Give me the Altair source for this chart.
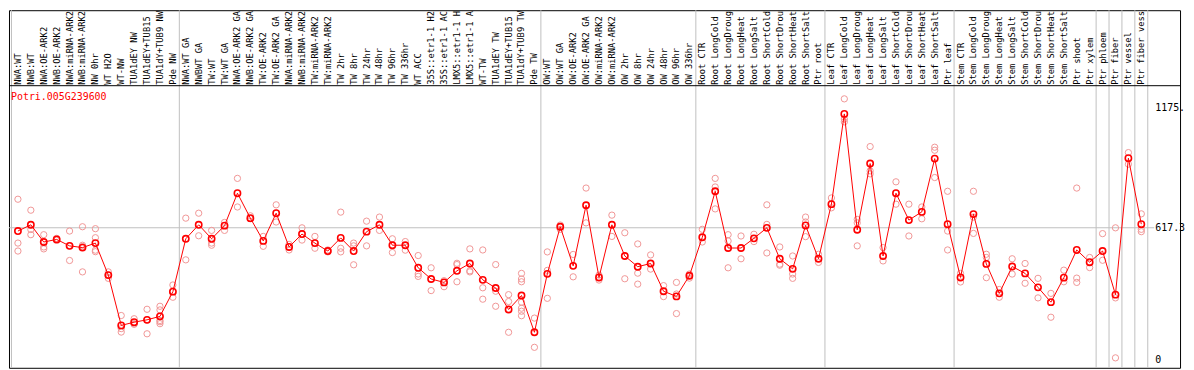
import altair as alt
import pandas as pd

gene = "Potri.005G239600"

labels = [
    "NWA:WT", "NWB:WT", "NWA:OE-ARK2", "NWB:OE-ARK2", "NWA:miRNA-ARK2", "NWB:miRNA-ARK2",
    "NW 0hr", "WT H2O", "WT-NW", "TUA1dEY NW", "TUA1dEY+TUB15", "TUA1dY+TUB9 NW", "Pde NW",
    "NWA:WT GA", "NWBWT GA", "TW:WT", "TW:WT GA", "NWA:OE-ARK2 GA", "NWB:OE-ARK2 GA",
    "TW:OE-ARK2", "TW:OE-ARK2 GA", "NWA:miRNA-ARK2", "NWB:miRNA-ARK2", "TW:miRNA-ARK2",
    "TW:miRNA-ARK2", "TW 2hr", "TW 8hr", "TW 24hr", "TW 48hr", "TW 96hr", "TW 336hr",
    "WT ACC", "35S::etr1-1 H2", "35S::etr1-1 AC", "LMX5::etr1-1 H", "LMX5::etr1-1 A",
    "WT-TW", "TUA1dEY TW", "TUA1dEY+TUB15", "TUA1dY+TUB9 TW", "Pde TW",
    "OW:WT", "OW:WT GA", "OW:OE-ARK2", "OW:OE-ARK2 GA", "OW:miRNA-ARK2", "OW:miRNA-ARK2",
    "OW 2hr", "OW 8hr", "OW 24hr", "OW 48hr", "OW 96hr", "OW 336hr",
    "Root CTR", "Root LongCold", "Root LongDroug", "Root LongHeat", "Root LongSalt",
    "Root ShortCold", "Root ShortDrou", "Root ShortHeat", "Root ShortSalt", "Ptr root",
    "Leaf CTR", "Leaf LongCold", "Leaf LongDroug", "Leaf LongHeat", "Leaf LongSalt",
    "Leaf ShortCold", "Leaf ShortDrou", "Leaf ShortHeat", "Leaf ShortSalt", "Ptr leaf",
    "Stem CTR", "Stem LongCold", "Stem LongDroug", "Stem LongHeat", "Stem LongSalt",
    "Stem ShortCold", "Stem ShortDrou", "Stem ShortHeat", "Stem ShortSalt", "Ptr shoot",
    "Ptr xylem", "Ptr phloem", "Ptr fiber", "Ptr vessel", "Ptr fiber vess",
]

means = [
    602, 631, 551, 563, 533, 525, 546, 397, 163, 178, 189, 205, 320,
    566, 631, 566, 627, 778, 662, 556, 685, 528, 588, 546, 509, 570, 509, 599, 631, 536, 536,
    431, 379, 363, 417, 451, 375, 337, 237, 302, 131,
    403, 622, 440, 722, 386, 631, 486, 436, 451, 322, 298, 394,
    573, 787, 523, 523, 568, 617, 473, 426, 628, 473,
    727, 1147, 608, 916, 486, 778, 653, 691, 939, 634,
    386, 681, 449, 312, 437, 405, 340, 271, 385, 514, 457,
    509, 306, 941, 634,
]

reps = [
    [750, 546, 509], [699, 585, 609], [585, 528, 519], [568, 559], [602, 533, 465],
    [622, 536, 530, 412], [613, 571, 513, 506], [412, 382, 397], [209, 148, 132],
    [194, 171, 168], [238, 189, 124], [252, 235, 186, 171, 180], [351, 294, 320],
    [662, 468], [685, 580], [605, 546, 536], [642, 605], [847, 714], [673, 659],
    [577, 531], [724, 644], [540, 514], [617, 560], [577, 522], [514, 505],
    [690, 522, 505], [546, 533, 445], [648, 533], [667, 605], [566, 502], [553, 513],
    [488, 402, 391], [431, 325], [371, 343], [452, 446, 366], [519, 417, 412],
    [514, 338, 285], [446, 322, 252], [306, 274, 131],
    [405, 379, 366, 271, 243, 229, 208], [197, 61],
    [505, 419, 289], [630, 610], [493, 389], [802, 640], [397, 374], [676, 577],
    [594, 380], [542, 406, 355], [491, 425], [348, 297], [363, 309, 218], [402, 383],
    [610, 551], [847, 807, 705], [585, 556, 431], [579, 473], [587, 553],
    [724, 633, 500], [528, 448, 443], [486, 402, 382], [667, 644, 576], [494, 456],
    [756, 710], [1217, 1123, 1110], [656, 640, 533], [995, 882, 868], [525, 463],
    [831, 727], [727, 579], [714, 659], [992, 978, 851], [787, 602, 514],
    [405, 365], [787, 667, 591], [494, 479, 385], [330, 294], [473, 402],
    [451, 359], [382, 291], [312, 201], [420, 366], [802, 383, 363], [479, 432],
    [590, 466], [617, 291, 12], [967, 913], [682, 610, 599],
]

group_breaks = [-0.5, 12.5, 40.5, 52.5, 62.5, 72.5, 83.5, 84.5, 85.5, 86.5, 87.5]
tick_values = [0, 617.3, 1175]
tick_labels = ["0", "617.3", "1175."]
grid_value = [617.3]

# ---- layout (pixels) ----
W, H = 1179, 360
MONO = "DejaVu Sans Mono"

cat_df = pd.DataFrame({"idx": list(range(len(labels))), "label": labels, "mean": means})
rep_rows = [{"idx": i, "value": v} for i, vals in enumerate(reps) for v in vals]
rep_df = pd.DataFrame(rep_rows)
brk_df = pd.DataFrame({"b": group_breaks})
tick_df = pd.DataFrame({"v": tick_values, "t": tick_labels})
grid_df = pd.DataFrame({"v": grid_value})
one_df = pd.DataFrame({"t": [gene]})

xs = alt.Scale(domain=[-0.6923, 90], nice=False, zero=False)
ys = alt.Scale(domain=[-34.2, 1629.4], nice=False, zero=False)

vgrid = alt.Chart(brk_df).mark_rule(color="#c0c0c0", strokeWidth=1).encode(
    x=alt.X("b:Q", scale=xs, axis=None), y=alt.value(0), y2=alt.value(H)
)
hgrid = alt.Chart(grid_df).mark_rule(color="#c0c0c0", strokeWidth=1).encode(
    y=alt.Y("v:Q", scale=ys, axis=None), x=alt.value(0), x2=alt.value(1153)
)
sep = alt.Chart(one_df).mark_rule(color="black", strokeWidth=1).encode(
    y=alt.value(76), x=alt.value(0), x2=alt.value(W)
)
rep_pts = alt.Chart(rep_df).mark_point(
    shape="circle", filled=False, color="#f09696", size=40, strokeWidth=1, opacity=1
).encode(
    x=alt.X("idx:Q", scale=xs, axis=None), y=alt.Y("value:Q", scale=ys, axis=None)
)
line = alt.Chart(cat_df).mark_line(color="#ff0000", strokeWidth=1).encode(
    x=alt.X("idx:Q", scale=xs, axis=None), y=alt.Y("mean:Q", scale=ys, axis=None)
)
mean_pts = alt.Chart(cat_df).mark_point(
    shape="circle", filled=False, color="#ff0000", size=40, strokeWidth=1.6, opacity=1
).encode(
    x=alt.X("idx:Q", scale=xs, axis=None), y=alt.Y("mean:Q", scale=ys, axis=None)
)
lab = alt.Chart(cat_df).mark_text(
    angle=270, align="left", baseline="middle", font=MONO, fontSize=8.8, color="black"
).encode(
    x=alt.X("idx:Q", scale=xs, axis=None), y=alt.value(75), text="label:N"
)
title = alt.Chart(one_df).mark_text(
    align="left", baseline="middle", font=MONO, fontSize=10, color="#ff0000"
).encode(x=alt.value(2), y=alt.value(87.5), text="t:N")
ticks = alt.Chart(tick_df).mark_text(
    align="left", baseline="middle", font=MONO, fontSize=10, color="black"
).encode(x=alt.value(1154), y=alt.Y("v:Q", scale=ys, axis=None), text="t:N")

chart = alt.layer(vgrid, hgrid, sep, rep_pts, line, mean_pts, lab, title, ticks).properties(
    width=W, height=H, autosize="none",
    padding={"left": 1, "top": 1, "right": 6, "bottom": 1},
).configure_view(stroke="black", strokeWidth=1)

chart.save("out.html", embed_options={"renderer": "svg", "actions": False})
